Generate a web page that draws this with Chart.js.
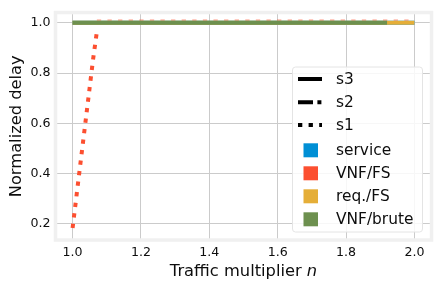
<!DOCTYPE html>
<html>
<head>
<meta charset="utf-8">
<script src="https://cdn.jsdelivr.net/npm/chart.js@4.4.1/dist/chart.umd.min.js"></script>
<style>
  html, body { margin: 0; padding: 0; background: #ffffff; }
  #wrap { width: 437px; height: 291px; }
</style>
</head>
<body>
<div id="wrap"><canvas id="delay"></canvas></div>
<script>
"use strict";

/* data */
var xTicks = [1.0, 1.2, 1.4, 1.6, 1.8, 2.0];
var yTicks = [0.2, 0.4, 0.6, 0.8, 1.0];

var fsRampX = [1.00, 1.01, 1.02, 1.03, 1.04, 1.05, 1.06, 1.071];
var fsRampY = [0.183, 0.295, 0.407, 0.519, 0.631, 0.743, 0.855, 0.964];
var fsTailX = [1.071, 2.0];
var fsTailY = [1.006, 1.006];
var bruteX = [1.0, 1.92];
var bruteY = [1.0, 1.0];
var reqX = [1.0, 2.0];
var reqY = [1.0, 1.0];
var serviceX = [1.0, 2.0];
var serviceY = [1.0, 1.0];

var legendNames = ['s3', 's2', 's1', 'service', 'VNF/FS', 'req./FS', 'VNF/brute'];
var legendColors = ['#000000', '#000000', '#000000', '#008fd5', '#fc4f30', '#e5ae38', '#6d904f'];
var legendDash = [[], [15, 4.4, 4, 4.4], [4.3, 6.3], null, null, null, null];

function pts(xs, ys) {
    return xs.map(function (x, i) { return { x: x, y: ys[i] }; });
}

function line(label, xs, ys, color, dash) {
    return {
        label: label,
        data: pts(xs, ys),
        showLine: true,
        borderColor: color,
        borderWidth: 4,
        borderDash: dash,
        borderCapStyle: 'butt',
        pointRadius: 0,
        fill: false
    };
}

var font = "'DejaVu Sans', sans-serif";
var textColor = '#0d0d0d';

/* grey axes frame, axis titles and the legend box */
var decor = {
    id: 'decor',
    afterDraw: function (chart) {
        var ctx = chart.ctx;
        var a = chart.chartArea;
        ctx.save();
        ctx.strokeStyle = '#f0f0f0';
        ctx.lineWidth = 3.5;
        ctx.strokeRect(a.left, a.top, a.right - a.left, a.bottom - a.top);

        ctx.fillStyle = textColor;
        ctx.textBaseline = 'alphabetic';
        var t1 = 'Traffic multiplier ';
        ctx.font = "16.3px " + font;
        var w1 = ctx.measureText(t1).width;
        ctx.font = "italic 16.3px " + font;
        var w2 = ctx.measureText('n').width;
        var cx = (a.left + a.right) / 2;
        var sx = cx - (w1 + w2) / 2;
        ctx.font = "16.3px " + font;
        ctx.textAlign = 'left';
        ctx.fillText(t1, sx, 276);
        ctx.font = "italic 16.3px " + font;
        ctx.fillText('n', sx + w1, 276);

        ctx.save();
        ctx.translate(21, (a.top + a.bottom) / 2);
        ctx.rotate(-Math.PI / 2);
        ctx.textAlign = 'center';
        ctx.font = "16.3px " + font;
        ctx.fillText('Normalized delay', 0, 0);
        ctx.restore();

        /* legend */
        var bx = 292.5, by = 67, bw = 130, bh = 165, r = 3;
        ctx.beginPath();
        ctx.moveTo(bx + r, by);
        ctx.arcTo(bx + bw, by, bx + bw, by + bh, r);
        ctx.arcTo(bx + bw, by + bh, bx, by + bh, r);
        ctx.arcTo(bx, by + bh, bx, by, r);
        ctx.arcTo(bx, by, bx + bw, by, r);
        ctx.closePath();
        ctx.fillStyle = 'rgba(255,255,255,0.85)';
        ctx.fill();
        ctx.strokeStyle = '#e4e4e4';
        ctx.lineWidth = 1;
        ctx.stroke();

        var rows = [79, 102.3, 125, 150.3, 173.3, 196.3, 219.3];
        ctx.font = "15.4px " + font;
        ctx.textAlign = 'left';
        ctx.textBaseline = 'middle';
        for (var i = 0; i < legendNames.length; i++) {
            var y = rows[i];
            if (legendDash[i]) {
                ctx.strokeStyle = legendColors[i];
                ctx.lineWidth = 4;
                ctx.lineCap = 'butt';
                ctx.setLineDash(legendDash[i]);
                ctx.beginPath();
                ctx.moveTo(298, y);
                ctx.lineTo(322, y);
                ctx.stroke();
                ctx.setLineDash([]);
            } else {
                ctx.fillStyle = legendColors[i];
                ctx.fillRect(303.5, y - 7, 14.5, 14);
            }
            ctx.fillStyle = textColor;
            ctx.fillText(legendNames[i], 336, y + 1);
        }
        ctx.restore();
    }
};

var cfg = {
    type: 'scatter',
    data: {
        datasets: [
            line('VNF/FS s1', fsRampX, fsRampY, '#fc4f30', [4.3, 6.3]),
            line('VNF/brute s3', bruteX, bruteY, '#6d904f', []),
            line('req./FS s3', reqX, reqY, '#e5ae38', []),
            line('VNF/FS tail', fsTailX, fsTailY, 'rgba(252, 79, 48, 0.4)', [4.3, 6.3]),
            line('service s3', serviceX, serviceY, '#008fd5', [])
        ]
    },
    options: {
        responsive: true,
        maintainAspectRatio: false,
        animation: false,
        layout: { padding: { left: 0, top: 7.5, right: 5.5, bottom: 0 } },
        plugins: {
            legend: { display: false },
            tooltip: { enabled: false }
        },
        scales: {
            x: {
                type: 'linear',
                min: 0.95,
                max: 2.05,
                afterBuildTicks: function (s) { s.ticks = xTicks.map(function (v) { return { value: v }; }); },
                afterFit: function (s) { s.height = 51; },
                grid: { color: '#cbcbcb', lineWidth: 1, drawTicks: false },
                border: { display: false },
                ticks: {
                    padding: 5,
                    color: textColor,
                    font: { family: font, size: 12.6 },
                    callback: function (v) { return v.toFixed(1); }
                }
            },
            y: {
                type: 'linear',
                min: 0.135,
                max: 1.041,
                afterBuildTicks: function (s) { s.ticks = yTicks.map(function (v) { return { value: v }; }); },
                afterFit: function (s) { s.width = 55.5; },
                grid: { color: '#cbcbcb', lineWidth: 1, drawTicks: false },
                border: { display: false },
                ticks: {
                    padding: 5,
                    color: textColor,
                    font: { family: font, size: 12.6 },
                    callback: function (v) { return v.toFixed(1); }
                }
            }
        }
    },
    plugins: [decor]
};

new Chart(document.getElementById('delay').getContext('2d'), cfg);
</script>
</body>
</html>
